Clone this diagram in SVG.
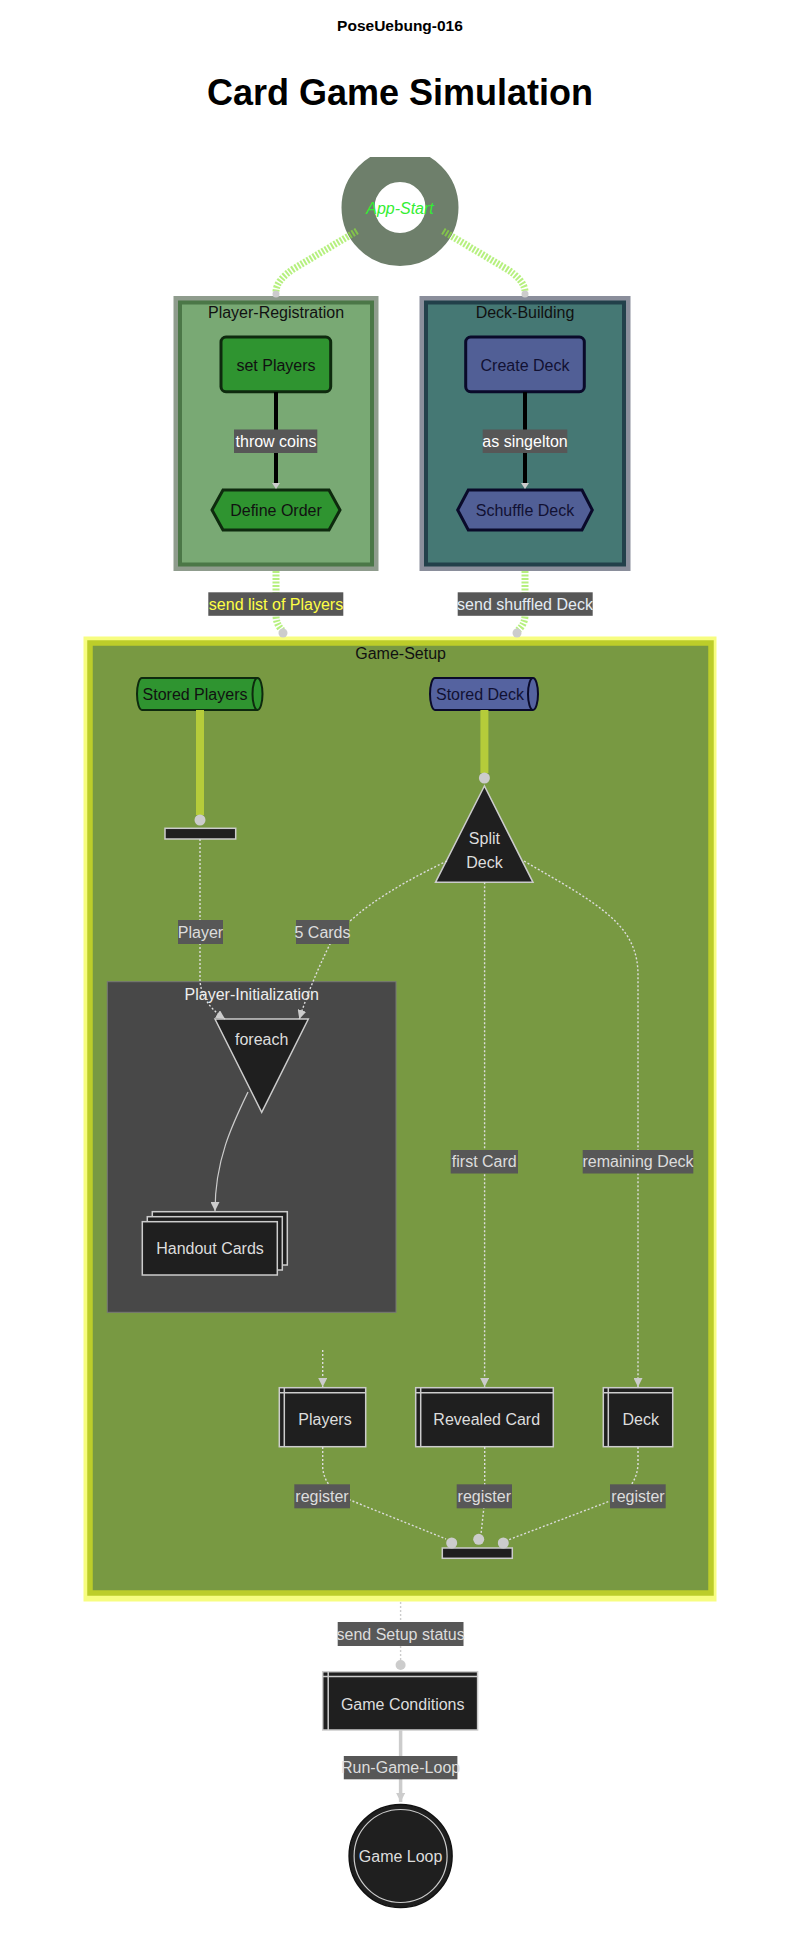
<svg xmlns="http://www.w3.org/2000/svg" width="800" height="1933" viewBox="0 0 800 1933">
<style>
text{font-family:"Liberation Sans",Arial,sans-serif;font-size:16px;text-anchor:middle;dominant-baseline:central}
.dark{fill:#1f1f1f;stroke:#cccccc;stroke-width:1.5}
.lt{fill:#dddddd}
.lbl{fill:#575757}
.dash{fill:none;stroke:#dddddd;stroke-width:1.4;stroke-dasharray:2 2}
.stripe{fill:none;stroke:#8fe83a;stroke-opacity:0.65;stroke-width:7;stroke-dasharray:2 1.5}
.thick{fill:none;stroke:#b5cc3a;stroke-width:8}
.dot{fill:#cccccc}
</style>
<defs>
<marker id="ah" markerUnits="userSpaceOnUse" markerWidth="9" markerHeight="9" refX="9" refY="4.5" orient="auto">
<path d="M0,0 L9,4.5 L0,9 z" fill="#cccccc"/>
</marker>
<clipPath id="topclip"><rect x="0" y="157" width="800" height="200"/></clipPath>
</defs>
<rect width="800" height="1933" fill="#ffffff"/>
<text x="400" y="25" style="font-weight:bold;font-size:15.5px" fill="#000">PoseUebung-016</text>
<text x="400" y="92" style="font-weight:bold;font-size:36px" fill="#000">Card Game Simulation</text>

<!-- clusters -->
<g id="cluster-player-registration">
<rect x="173.5" y="296" width="205" height="275" fill="#8f9c8d"/>
<rect x="180" y="302.5" width="192" height="262" fill="#79a974" stroke="#4b7747" stroke-width="4"/>
<text x="276" y="312" fill="#111">Player-Registration</text>
</g>
<g id="cluster-deck-building">
<rect x="419.5" y="296" width="211" height="275" fill="#8a8e9b"/>
<rect x="426" y="302.5" width="198" height="262" fill="#457874" stroke="#22404a" stroke-width="4"/>
<text x="525" y="312" fill="#111">Deck-Building</text>
</g>
<g id="cluster-game-setup">
<rect x="83.5" y="636.5" width="633" height="965" fill="#f7fd80"/>
<rect x="90" y="643" width="621" height="950" fill="#789942" stroke="#bccd2a" stroke-width="5.5"/>
<text x="400.6" y="653" fill="#111">Game-Setup</text>
</g>
<g id="cluster-player-initialization">
<rect x="107.3" y="981.7" width="288.7" height="330.6" fill="#484848" stroke="#777" stroke-width="1"/>
<text x="251.7" y="994" fill="#eeeeee">Player-Initialization</text>
</g>

<!-- nodes -->
<g id="app-start">
<circle cx="400" cy="207.5" r="42" fill="none" stroke="#6e7f6b" stroke-width="33" clip-path="url(#topclip)"/>
<text x="400" y="208" style="font-style:italic" fill="#33ee33">App-Start</text>
</g>
<g id="set-players">
<rect x="221" y="337" width="109.7" height="54.7" rx="5" fill="#2f9430" stroke="#0e2a0e" stroke-width="3"/>
<text x="276" y="365" fill="#111">set Players</text>
</g>
<g id="define-order">
<polygon points="212,510 223,490 329,490 340,510 329,530 223,530" fill="#2f9430" stroke="#0e2a0e" stroke-width="3"/>
<text x="276" y="510" fill="#111">Define Order</text>
</g>
<g id="create-deck">
<rect x="465.7" y="337" width="118.6" height="54.7" rx="5" fill="#515f96" stroke="#0a0a2a" stroke-width="3"/>
<text x="525" y="365" fill="#111133">Create Deck</text>
</g>
<g id="schuffle-deck">
<polygon points="457.7,510 468.3,490 582,490 592.3,510 582,530 468.3,530" fill="#515f96" stroke="#0a0a2a" stroke-width="3"/>
<text x="525" y="510" fill="#111133">Schuffle Deck</text>
</g>
<g id="stored-players">
<path d="M142,678 L257.5,678 A5,16 0 0 1 257.5,710 L142,710 A5,16 0 0 1 142,678 Z" fill="#2f9430" stroke="#0e2a0e" stroke-width="2"/>
<path d="M257.5,678 A5,16 0 0 0 257.5,710" fill="none" stroke="#0e2a0e" stroke-width="2"/>
<text x="195" y="694" fill="#111">Stored Players</text>
</g>
<g id="stored-deck">
<path d="M435,678 L533,678 A5,16 0 0 1 533,710 L435,710 A5,16 0 0 1 435,678 Z" fill="#5563a0" stroke="#0a0a2a" stroke-width="2"/>
<path d="M533,678 A5,16 0 0 0 533,710" fill="none" stroke="#0a0a2a" stroke-width="2"/>
<text x="480" y="694" fill="#111133">Stored Deck</text>
</g>
<g id="fork-bar">
<rect x="165" y="828.3" width="70.7" height="10.7" class="dark"/>
</g>
<g id="split-deck">
<polygon points="484.4,786 435.5,882.3 533,882.3" class="dark"/>
<text x="484.4" y="838" class="lt">Split</text>
<text x="484.4" y="862" class="lt">Deck</text>
</g>
<g id="foreach">
<polygon points="215,1019 308.3,1019 261.7,1112.3" class="dark"/>
<text x="261.7" y="1039" class="lt">foreach</text>
</g>
<g id="handout-cards">
<rect x="152.3" y="1211.7" width="135" height="53.3" class="dark"/>
<rect x="147.3" y="1216.7" width="135" height="53.3" class="dark"/>
<rect x="142.3" y="1221.7" width="135" height="53.3" class="dark"/>
<text x="210" y="1248.3" class="lt">Handout Cards</text>
</g>
<g id="players">
<rect x="279.3" y="1387.7" width="86.4" height="59" class="dark"/>
<path d="M284.3,1387.7 V1446.7 M279.3,1392.7 H365.7" stroke="#cccccc" stroke-width="1.5" fill="none"/>
<text x="325" y="1419.3" class="lt">Players</text>
</g>
<g id="revealed-card">
<rect x="415.7" y="1387.7" width="137.6" height="59" class="dark"/>
<path d="M420.7,1387.7 V1446.7 M415.7,1392.7 H553.3" stroke="#cccccc" stroke-width="1.5" fill="none"/>
<text x="486.7" y="1419.3" class="lt">Revealed Card</text>
</g>
<g id="deck">
<rect x="603.3" y="1387.7" width="69.4" height="59" class="dark"/>
<path d="M608.3,1387.7 V1446.7 M603.3,1392.7 H672.7" stroke="#cccccc" stroke-width="1.5" fill="none"/>
<text x="640.7" y="1419.3" class="lt">Deck</text>
</g>
<g id="join-bar">
<rect x="442.3" y="1548" width="70" height="10.3" class="dark"/>
</g>
<g id="game-conditions">
<rect x="322.7" y="1671.7" width="154.9" height="58.3" class="dark"/>
<path d="M328.2,1671.7 V1730 M322.7,1676.5 H477.6" stroke="#cccccc" stroke-width="1.5" fill="none"/>
<text x="402.7" y="1704" class="lt">Game Conditions</text>
</g>
<g id="game-loop">
<circle cx="400.6" cy="1856" r="51.5" fill="#1f1f1f" stroke="#111" stroke-width="1.5"/>
<circle cx="400.6" cy="1856" r="46.5" fill="none" stroke="#cccccc" stroke-width="1.2"/>
<text x="400.6" y="1856" class="lt">Game Loop</text>
</g>

<!-- connectors -->
<g id="connectors">
<path class="stripe" d="M357,231 L295,268 Q276,280 276,292"/>
<path class="stripe" d="M443,231 L505,268 Q525,280 525,292"/>
<circle class="dot" cx="276" cy="294" r="3.5"/>
<circle class="dot" cx="525" cy="294" r="3.5"/>
<path d="M276,392 V484" stroke="#000" stroke-width="4" fill="none"/>
<path d="M272,483 L280,483 L276,489 z" fill="#cccccc"/>
<path d="M525,392 V484" stroke="#000" stroke-width="4" fill="none"/>
<path d="M521,483 L529,483 L525,489 z" fill="#cccccc"/>
<path class="stripe" d="M276,571 L276,615 Q276,625 283,631"/>
<path class="stripe" d="M525,571 L525,615 Q525,625 517,631"/>
<circle class="dot" cx="283" cy="633" r="4.5"/>
<circle class="dot" cx="517" cy="633" r="4.5"/>
<path class="thick" d="M200,710 V815"/>
<circle class="dot" cx="200" cy="820" r="5.5"/>
<path class="thick" d="M484.4,710 V773"/>
<circle class="dot" cx="484.4" cy="778" r="5.5"/>
<path class="dash" d="M200,839 L200,980 Q201,1003 225,1019" marker-end="url(#ah)"/>
<path class="dash" d="M447,861 Q355,905 330,944 Q310,985 299.3,1019" marker-end="url(#ah)"/>
<path class="dash" d="M484.6,882.3 V1387" marker-end="url(#ah)"/>
<path class="dash" d="M524,861 C600,905 638,925 638,975 V1387" marker-end="url(#ah)"/>
<path d="M248,1092 C232,1125 215,1160 215,1211" fill="none" stroke="#cccccc" stroke-width="1.2" marker-end="url(#ah)"/>
<path class="dash" d="M322.7,1350 V1387" marker-end="url(#ah)"/>
<path class="dash" d="M322.7,1447 L322.7,1468 Q325,1490 350,1500 L446,1539"/>
<path class="dash" d="M484.7,1447 L484.7,1500 L481,1534"/>
<path class="dash" d="M638,1447 L638,1465 Q636,1490 610,1501 L508,1540"/>
<circle class="dot" cx="451.7" cy="1543" r="5.5"/>
<circle class="dot" cx="478.7" cy="1539.3" r="5.5"/>
<circle class="dot" cx="503.3" cy="1543" r="5.5"/>
<path class="dash" d="M400.6,1602 V1660" style="stroke:#cccccc"/>
<circle class="dot" cx="400.6" cy="1665" r="5"/>
<path d="M400.6,1730 V1802" stroke="#cccccc" stroke-width="3.5" fill="none" marker-end="url(#ah)"/>

<!-- edge labels -->
<rect class="lbl" x="234" y="429.5" width="83.3" height="23.5"/>
<text x="276" y="441" fill="#ffffff">throw coins</text>
<rect class="lbl" x="482.7" y="429.5" width="84.6" height="23.5"/>
<text x="525" y="441" fill="#ffffff">as singelton</text>
<rect class="lbl" x="208.3" y="592.3" width="135" height="23.5"/>
<text x="276" y="604" fill="#ffff44">send list of Players</text>
<rect class="lbl" x="457.7" y="592.3" width="135" height="23.5"/>
<text x="525" y="604" fill="#e4ecf4">send shuffled Deck</text>
<rect class="lbl" x="178" y="920" width="45" height="24"/>
<text x="200.5" y="932" class="lt">Player</text>
<rect class="lbl" x="296" y="920" width="53" height="24"/>
<text x="322.5" y="932" class="lt">5 Cards</text>
<rect class="lbl" x="450.7" y="1150" width="67.3" height="23.5"/>
<text x="484.3" y="1161.7" class="lt">first Card</text>
<rect class="lbl" x="582.7" y="1150" width="110.6" height="23.5"/>
<text x="638" y="1161.7" class="lt">remaining Deck</text>
<rect class="lbl" x="294.3" y="1484.3" width="55.7" height="24"/>
<text x="322" y="1496.3" class="lt">register</text>
<rect class="lbl" x="456.7" y="1484.3" width="55.3" height="24"/>
<text x="484.3" y="1496.3" class="lt">register</text>
<rect class="lbl" x="610" y="1484.3" width="55.7" height="24"/>
<text x="638" y="1496.3" class="lt">register</text>
<rect class="lbl" x="337.7" y="1622" width="125.8" height="24"/>
<text x="400.6" y="1634" class="lt">send Setup status</text>
<rect class="lbl" x="343.8" y="1756" width="113.6" height="23.3"/>
<text x="400.6" y="1767.7" class="lt">Run-Game-Loop</text>
</g>
</svg>
